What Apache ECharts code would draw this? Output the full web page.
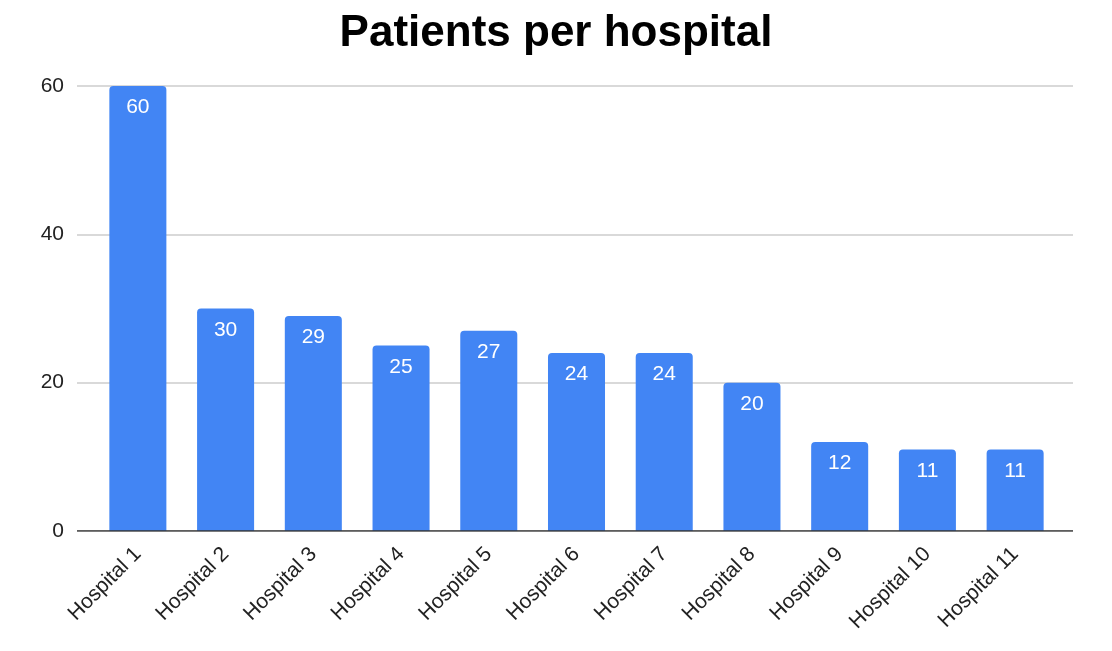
<!DOCTYPE html>
<html>
<head>
<meta charset="utf-8">
<script src="https://cdn.jsdelivr.net/npm/echarts@6/dist/echarts.min.js"></script>
<style>
  html, body { margin: 0; padding: 0; background: #fff; }
  #main { width: 1112px; height: 651px; }
</style>
</head>
<body>
<div id="main"></div>
<script>
var hospitals = ['Hospital 1', 'Hospital 2', 'Hospital 3', 'Hospital 4', 'Hospital 5', 'Hospital 6',
                 'Hospital 7', 'Hospital 8', 'Hospital 9', 'Hospital 10', 'Hospital 11'];
var patients = [60, 30, 29, 25, 27, 24, 24, 20, 12, 11, 11];

var chart = echarts.init(document.getElementById('main'));
var font = 'Liberation Sans, Arial, sans-serif';

// two grids: the wide one carries the gridlines, the inner one the bars
var option = {
  backgroundColor: '#ffffff',
  animation: false,
  title: {
    text: 'Patients per hospital',
    left: 'center',
    top: 7,
    textStyle: { fontFamily: font, fontSize: 44, fontWeight: 'bold', color: '#000' }
  },
  grid: [
    { left: 77, right: 39, top: 86, bottom: 120 },
    { left: 94, right: 53, top: 86, bottom: 120 }
  ],
  xAxis: [
    {
      gridIndex: 0, type: 'value', min: 0, max: 1,
      axisLine: { show: false }, axisTick: { show: false },
      axisLabel: { show: false }, splitLine: { show: false }
    },
    {
      gridIndex: 1, type: 'category', data: hospitals,
      axisLine: { show: false }, axisTick: { show: false },
      axisLabel: {
        rotate: 45, interval: 0, margin: 20,
        fontFamily: font, fontSize: 21, color: '#222'
      }
    }
  ],
  yAxis: [
    {
      gridIndex: 0, type: 'value', min: 0, max: 60, interval: 20,
      axisLine: { show: false }, axisTick: { show: false },
      axisLabel: { fontFamily: font, fontSize: 21, color: '#222', margin: 13 },
      splitLine: { lineStyle: { color: '#cccccc', width: 1.5 } }
    },
    {
      gridIndex: 1, type: 'value', min: 0, max: 60, interval: 20,
      axisLine: { show: false }, axisTick: { show: false },
      axisLabel: { show: false }, splitLine: { show: false }
    }
  ],
  series: [
    {
      // baseline across the full width
      type: 'line', xAxisIndex: 0, yAxisIndex: 0,
      data: [[0, 0], [1, 0]], symbol: 'none', silent: true,
      lineStyle: { color: '#333', width: 1.5 }, z: 5
    },
    {
      type: 'bar', xAxisIndex: 1, yAxisIndex: 1,
      data: patients,
      barCategoryGap: '35%',
      itemStyle: { color: '#4285f4', borderRadius: [4, 4, 0, 0] },
      label: {
        show: true, position: 'insideTop', distance: 11,
        fontFamily: font, fontSize: 21, color: '#ffffff'
      },
      z: 3
    }
  ]
};
chart.setOption(option);
</script>
</body>
</html>
